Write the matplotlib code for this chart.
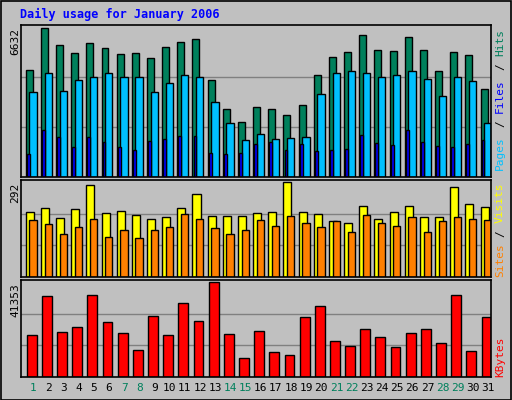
import matplotlib
matplotlib.use("Agg")
import matplotlib.pyplot as plt
from matplotlib.patches import Rectangle
import numpy as np

days = list(range(1, 32))
weekend_days = [1, 7, 8, 14, 15, 21, 22, 28, 29]
hits = [4760, 6632, 5860, 5500, 5950, 5730, 5460, 5500, 5280, 5770, 6000, 6130, 4300, 3030, 2440, 3090, 3030, 2770, 3220, 4520, 5320, 5540, 6310, 5640, 5590, 6220, 5640, 4700, 5540, 5410, 3920]
files = [3780, 4600, 3840, 4330, 4460, 4600, 4420, 4420, 3780, 4190, 4510, 4460, 3330, 2380, 1660, 1930, 1710, 1750, 1790, 3690, 4600, 4690, 4640, 4460, 4510, 4730, 4370, 3600, 4460, 4280, 2380]
pages = [1030, 2070, 1790, 1340, 1790, 1570, 1340, 1210, 1620, 1700, 1840, 1840, 1070, 1030, 1070, 1480, 1570, 1210, 1480, 1160, 1210, 1250, 1880, 1530, 1430, 2070, 1570, 1390, 1340, 1480, 1660]
visits = [200, 213, 181, 210, 283, 197, 203, 190, 178, 184, 213, 254, 187, 187, 187, 197, 200, 292, 200, 194, 171, 165, 219, 178, 200, 219, 184, 184, 276, 225, 216]
sites = [175, 162, 133, 152, 178, 124, 143, 121, 143, 152, 194, 178, 149, 133, 143, 175, 156, 187, 165, 152, 171, 139, 190, 165, 156, 184, 137, 171, 184, 178, 175]
kbytes = [18260, 35100, 19620, 21880, 35550, 23700, 19170, 11920, 26420, 18260, 32380, 24300, 41353, 18710, 8300, 20070, 11020, 9660, 25970, 30900, 15450, 13280, 20970, 17350, 12830, 19170, 20970, 14690, 35550, 11470, 25970]

W, H = 512, 400
fig = plt.figure(figsize=(W / 100, H / 100), dpi=100)
fig.patch.set_facecolor("#c0c0c0")
fig.patches.append(Rectangle((0.5 / W, 0.5 / H), 1 - 1.5 / W, 1 - 1.5 / H, transform=fig.transFigure,
                             fill=False, edgecolor="black", lw=1.2))
mono = "DejaVu Sans Mono"

def ax_at(x0, y0, x1, y1):
    return fig.add_axes([x0 / W, 1 - y1 / H, (x1 - x0) / W, (y1 - y0) / H])

x = np.array(days)
XL = (0.17, 31.17)

def setup(ax, vmax, label, top_px):
    ax.set_facecolor("#c0c0c0")
    ax.set_xlim(*XL)
    ax.set_ylim(0, vmax * 1.02)
    for g in (vmax / 3, 2 * vmax / 3):
        ax.axhline(g, color="#808080", lw=1, zorder=0)
    ax.set_xticks([]); ax.set_yticks([])
    for s in ax.spines.values():
        s.set_color("black"); s.set_linewidth(1.2)
    fig.text(15 / W, 1 - top_px / H, label, rotation=90, ha="center", va="top",
             fontsize=8, family=mono)

def bars(ax, lo, hi, vals, color):
    ax.bar(x + lo, vals, width=hi - lo, align="edge", color=color, edgecolor="black", lw=1, zorder=2)

ax1 = ax_at(20.7, 24.7, 490.7, 177)
setup(ax1, max(hits), f"{max(hits)}", 28)
bars(ax1, -0.5, -0.04, hits, "#00805c")
bars(ax1, -0.26, 0.22, files, "#00c0ff")
bars(ax1, -0.43, -0.24, pages, "#0000ff")

ax2 = ax_at(20.7, 180, 490.7, 277)
setup(ax2, max(visits), f"{max(visits)}", 183)
bars(ax2, -0.5, 0.03, visits, "#ffff00")
bars(ax2, -0.26, 0.22, sites, "#ff8000")

ax3 = ax_at(20.7, 280, 490.7, 377)
setup(ax3, max(kbytes), f"{max(kbytes)}", 283)
bars(ax3, -0.43, 0.22, kbytes, "#ff0000")

for d in days:
    xp = 20.7 + (d - XL[0]) / (XL[1] - XL[0]) * 470
    fig.text(xp / W, 1 - 388 / H, str(d), ha="center", va="center", fontsize=8, family=mono,
             color="#00805c" if d in weekend_days else "black")

fig.text(20 / W, 1 - 14 / H, "Daily usage for January 2006", ha="left", va="center",
         fontsize=8.5, family=mono, fontweight="bold", color="#0000ff")

def side(parts, y_top_px, y_bot_px):
    n = sum(len(p[0]) for p in parts) + len(parts) - 1
    step = (y_bot_px - y_top_px) / n
    ypix = y_bot_px
    for txt, col in parts:
        fig.text(500 / W, 1 - ypix / H, txt, rotation=90, ha="center", va="bottom", fontsize=8,
                 family=mono, color=col)
        ypix -= (len(txt) + 1) * step

side([("Pages", "#00c0ff"), ("/", "#000000"), ("Files", "#0000ff"), ("/", "#000000"), ("Hits", "#00805c")], 27, 170)
side([("Sites", "#ff8000"), ("/", "#000000"), ("Visits", "#ffff00")], 183, 277)
side([("KBytes", "#ff0000")], 330, 377)

fig.savefig("out.png", dpi=100, facecolor=fig.get_facecolor())
